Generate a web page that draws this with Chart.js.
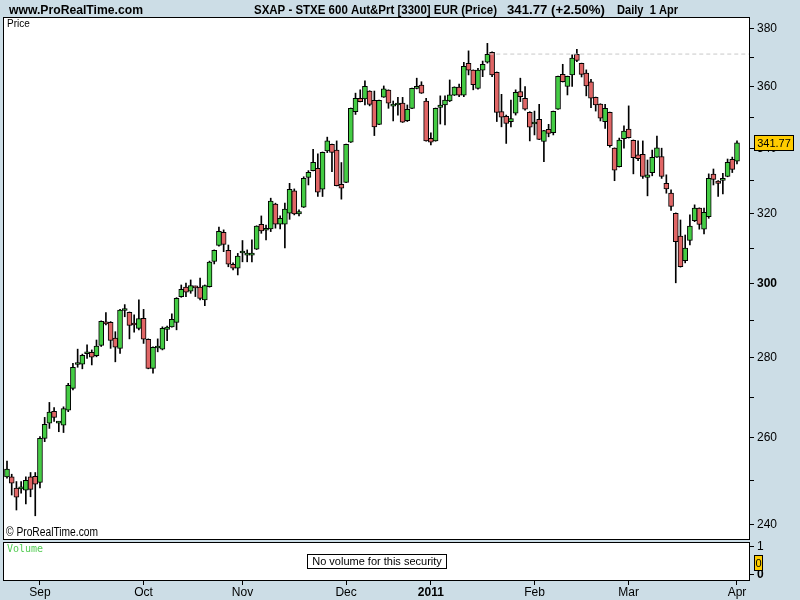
<!DOCTYPE html>
<html>
<head>
<meta charset="utf-8">
<title>SXAP - STXE 600 Aut&amp;Prt</title>
<script src="https://cdn.jsdelivr.net/npm/chart.js@4.4.0/dist/chart.umd.min.js"></script>
<style>
  html, body { margin: 0; padding: 0; background: #ccdde6; }
</style>
</head>
<body>
<canvas id="price-chart" width="800" height="600"></canvas>
<script>
// daily OHLC, 23 Aug 2010 .. 1 Apr 2011
var open = [
  250.8, 250.8, 248.2, 248.0, 247.7, 250.8, 250.9, 249.5, 259.9, 263.6,
  266.5, 263.6, 263.1, 266.8, 272.2, 278.3, 278.4, 281.1, 281.5, 280.6,
  283.3, 289.4, 289.4, 285.2, 282.5, 292.6, 292.1, 289.2, 287.8, 290.5,
  284.9, 277.3, 282.6, 282.3, 287.5, 288.2, 289.4, 296.4, 299.0, 297.9,
  299.2, 299.0, 295.5, 299.1, 306.2, 310.8, 314.6, 309.4, 305.4, 304.3,
  308.6, 308.0, 308.0, 309.7, 316.9, 315.2, 315.6, 322.9, 317.0, 317.0,
  320.2, 326.9, 320.0, 322.0, 331.0, 333.1, 333.8, 327.4, 339.2, 341.3,
  339.5, 328.9, 329.5, 342.0, 351.8, 356.2, 356.0, 358.6, 355.5, 347.7,
  356.6, 358.9, 353.6, 354.0, 354.6, 348.9, 352.9, 359.5, 360.6, 355.3,
  343.2, 342.4, 353.2, 354.0, 355.3, 357.2, 359.9, 357.2, 367.9, 365.6,
  359.5, 365.6, 368.3, 371.7, 364.9, 351.8, 350.3, 348.6, 351.3, 358.4,
  356.2, 351.6, 347.8, 349.3, 342.2, 346.1, 345.0, 352.6, 364.2, 360.1,
  364.0, 371.0, 367.9, 364.6, 361.7, 356.5, 354.3, 348.6, 351.6, 340.1,
  334.3, 343.1, 346.2, 342.6, 338.0, 338.2, 331.0, 332.5, 337.3, 337.5,
  329.2, 326.2, 320.2, 313.5, 306.4, 312.2, 318.0, 321.7, 315.5, 319.2,
  332.0, 329.9, 330.1, 331.3, 336.6, 336.0
];
var high = [
  254.5, 251.4, 249.7, 249.7, 250.8, 251.8, 251.8, 260.3, 265.0, 268.7,
  267.4, 264.0, 267.6, 273.5, 278.6, 282.3, 281.0, 283.4, 282.1, 284.7,
  289.8, 292.0, 289.6, 286.9, 292.9, 294.2, 292.2, 291.4, 295.5, 292.9,
  285.0, 282.9, 285.0, 288.2, 288.4, 291.7, 296.1, 299.6, 300.1, 301.0,
  299.3, 301.5, 299.6, 306.3, 309.5, 316.1, 315.3, 310.9, 305.8, 308.5,
  312.2, 309.5, 312.4, 316.5, 319.4, 316.7, 324.7, 323.2, 319.4, 323.2,
  329.2, 327.5, 321.2, 331.2, 333.1, 339.7, 338.3, 338.9, 343.6, 341.4,
  342.4, 335.6, 341.4, 353.0, 357.9, 359.0, 362.0, 358.7, 358.6, 355.6,
  360.3, 359.0, 355.3, 356.5, 356.5, 354.0, 359.6, 362.9, 361.7, 356.2,
  345.0, 353.0, 357.0, 357.0, 362.3, 360.0, 360.9, 368.3, 372.2, 365.7,
  366.2, 368.7, 374.8, 371.9, 365.0, 357.5, 350.7, 355.6, 359.0, 362.9,
  360.1, 351.8, 352.0, 354.2, 345.8, 347.7, 352.0, 363.6, 367.6, 363.6,
  370.8, 372.7, 368.0, 365.7, 362.5, 356.6, 354.4, 354.2, 351.7, 340.2,
  343.3, 347.2, 353.7, 342.7, 342.4, 342.4, 336.4, 339.5, 343.9, 340.1,
  331.8, 327.2, 320.3, 318.2, 313.8, 319.7, 322.7, 321.8, 321.7, 332.1,
  333.6, 330.0, 332.3, 336.7, 337.3, 342.4
];
var low = [
  250.5, 246.6, 243.2, 247.0, 244.6, 246.2, 241.9, 248.2, 259.1, 262.3,
  264.0, 261.5, 261.3, 266.4, 271.8, 277.6, 277.2, 279.9, 278.2, 280.3,
  283.0, 288.7, 282.5, 279.0, 281.2, 290.9, 285.0, 286.8, 287.4, 283.8,
  277.2, 276.1, 281.6, 282.1, 284.5, 288.1, 287.4, 296.2, 296.4, 297.3,
  296.4, 295.5, 293.9, 299.0, 305.5, 310.6, 309.0, 304.7, 303.8, 302.4,
  306.1, 306.1, 306.1, 309.6, 314.3, 312.4, 314.8, 315.8, 315.6, 310.1,
  318.4, 319.7, 319.4, 321.9, 328.7, 333.0, 325.2, 325.2, 338.7, 332.8,
  328.4, 324.4, 329.4, 341.9, 350.9, 355.0, 354.0, 353.7, 344.1, 347.6,
  356.5, 352.9, 348.8, 350.7, 348.3, 348.6, 352.8, 359.3, 357.8, 342.3,
  341.1, 342.3, 347.8, 347.5, 355.1, 357.1, 356.7, 356.7, 364.0, 359.0,
  359.2, 363.4, 368.0, 363.4, 348.6, 346.9, 341.6, 346.9, 350.7, 355.1,
  352.3, 342.4, 344.3, 342.8, 335.9, 343.7, 344.3, 352.5, 361.6, 357.3,
  360.1, 368.5, 363.3, 357.0, 353.1, 352.0, 348.8, 346.4, 340.4, 330.0,
  334.2, 340.1, 343.3, 332.1, 336.2, 330.7, 325.4, 331.5, 337.2, 330.7,
  326.2, 321.0, 300.2, 304.6, 305.8, 310.9, 317.7, 315.5, 314.1, 318.7,
  328.7, 325.2, 326.0, 331.2, 332.5, 335.2
];
var close = [
  252.6, 249.3, 246.1, 248.3, 250.0, 247.9, 249.1, 259.9, 263.3, 266.3,
  265.0, 263.8, 267.2, 273.0, 277.6, 278.4, 280.7, 281.6, 280.2, 283.1,
  289.7, 289.0, 284.6, 282.8, 292.7, 292.8, 288.6, 288.7, 290.4, 284.9,
  277.3, 282.8, 282.7, 287.8, 288.1, 290.2, 295.9, 298.4, 297.6, 299.4,
  298.8, 295.9, 299.4, 306.0, 309.4, 314.9, 311.1, 305.4, 304.3, 307.7,
  308.7, 308.4, 308.1, 316.4, 315.0, 315.3, 323.8, 317.0, 318.7, 321.4,
  327.4, 320.0, 320.7, 330.7, 332.6, 335.7, 326.5, 338.8, 342.4, 338.8,
  328.5, 327.7, 341.3, 352.9, 356.2, 355.1, 360.2, 354.2, 346.9, 355.5,
  359.3, 354.6, 353.7, 354.1, 348.4, 352.6, 359.5, 359.9, 357.9, 342.4,
  342.0, 352.9, 354.0, 355.6, 357.3, 359.9, 357.2, 366.9, 365.6, 360.7,
  365.6, 367.6, 371.0, 364.0, 351.6, 350.0, 348.0, 349.6, 358.2, 356.7,
  352.6, 346.8, 347.9, 342.9, 345.7, 344.8, 351.9, 363.5, 361.7, 363.5,
  369.7, 368.9, 364.2, 360.3, 356.2, 354.0, 349.7, 352.9, 340.9, 333.2,
  342.7, 345.5, 343.4, 337.1, 336.8, 331.3, 331.8, 337.2, 340.2, 331.3,
  327.5, 322.2, 311.9, 304.7, 310.0, 316.4, 321.7, 316.9, 320.5, 330.7,
  330.4, 329.2, 330.2, 335.7, 333.5, 341.77
];

// x axis: candle index of the first session of each month
var monthTicks = [7, 29, 50, 72, 90, 112, 132, 155];
var monthLabels = ['Sep', 'Oct', 'Nov', 'Dec', '2011', 'Feb', 'Mar', 'Apr'];
var priceTicks = [240, 250, 260, 270, 280, 290, 300, 310, 320, 330, 340, 350, 360, 370, 380];
var volumeTicks = [0, 1];
var lastPrice = 341.77;
var highLine = 371.1;
var highLineStart = 102.4;

var upColor = '#44cc44';
var downColor = '#e06666';
var bgColor = '#ccdde6';
var fontFam = "'Liberation Sans', Arial, sans-serif";

Chart.defaults.font.family = fontFam;

var wicks = [];
var bodies = [];
var bodyColors = [];
for (var i = 0; i < close.length; i++) {
  wicks.push({x: i, y: [low[i], high[i]]});
  bodies.push({x: i, y: [open[i], close[i]]});
  bodyColors.push(close[i] >= open[i] ? upColor : downColor);
}
var xMax = close.length + 1.55;

// draw text squeezed to a given width
function fitText(ctx, text, x, y, w, font, color) {
  ctx.font = font;
  var m = ctx.measureText(text).width;
  ctx.save();
  ctx.translate(x, y);
  ctx.scale(w / m, 1);
  ctx.fillStyle = color;
  ctx.textAlign = 'left';
  ctx.textBaseline = 'middle';
  ctx.fillText(text, 0, 0);
  ctx.restore();
}

var panels = {
  id: 'panels',
  beforeDraw: function(chart) {
    var ctx = chart.ctx;
    ctx.save();
    ctx.fillStyle = bgColor;
    ctx.fillRect(0, 0, chart.width, chart.height);
    ctx.fillStyle = '#fff';
    ctx.fillRect(3, 17, 747, 523);
    ctx.fillRect(3, 542, 747, 39);
    ctx.restore();
  },
  afterDraw: function(chart) {
    var ctx = chart.ctx;
    ctx.save();
    ctx.strokeStyle = '#000';
    ctx.lineWidth = 1;
    ctx.strokeRect(3.5, 17.5, 746, 522);
    ctx.strokeRect(3.5, 542.5, 746, 38);

    // header
    fitText(ctx, 'www.ProRealTime.com', 9, 10, 134, 'bold 13px ' + fontFam, '#000');
    fitText(ctx, 'SXAP - STXE 600 Aut&Prt [3300] EUR (Price)', 254, 10, 243, 'bold 13px ' + fontFam, '#000');
    fitText(ctx, '341.77 (+2.50%)', 507, 10, 98, 'bold 13px ' + fontFam, '#000');
    fitText(ctx, 'Daily  1 Apr', 617, 10, 61, 'bold 13px ' + fontFam, '#000');

    // panel captions
    ctx.fillStyle = '#000';
    ctx.font = '10px ' + fontFam;
    ctx.textBaseline = 'middle';
    ctx.fillText('Price', 7, 24);
    fitText(ctx, '\u00a9 ProRealTime.com', 6, 533, 92, '12px ' + fontFam, '#000');
    ctx.fillStyle = '#55cc55';
    ctx.font = '10px "DejaVu Sans Mono", monospace';
    ctx.fillText('Volume', 7, 549);

    // no volume box
    ctx.fillStyle = '#fff';
    ctx.fillRect(307.5, 554.5, 139, 14);
    ctx.strokeRect(307.5, 554.5, 139, 14);
    ctx.fillStyle = '#000';
    ctx.font = '11px ' + fontFam;
    ctx.textAlign = 'center';
    ctx.fillText('No volume for this security', 377, 562);

    // last price tag
    var yp = chart.scales.y.getPixelForValue(lastPrice);
    ctx.fillStyle = '#ffcc00';
    ctx.fillRect(754.5, Math.round(yp) - 7.5, 39, 15);
    ctx.strokeRect(754.5, Math.round(yp) - 7.5, 39, 15);
    ctx.fillStyle = '#000';
    ctx.font = '11px ' + fontFam;
    ctx.fillText(lastPrice.toFixed(2), 774, Math.round(yp) + 0.5);

    // volume tag
    var yv = chart.scales.v.getPixelForValue(0.4);
    ctx.fillStyle = '#ffcc00';
    ctx.fillRect(754.5, Math.round(yv) - 7.5, 8, 15);
    ctx.strokeRect(754.5, Math.round(yv) - 7.5, 8, 15);
    ctx.fillStyle = '#000';
    ctx.fillText('0', 758.5, Math.round(yv) + 0.5);
    ctx.restore();
  }
};

function tickGrid() {
  return {display: true, offset: false, drawOnChartArea: false, drawTicks: true, tickLength: 5, color: '#000', lineWidth: 1};
}

new Chart(document.getElementById('price-chart'), {
  type: 'bar',
  data: {
    datasets: [{
      label: 'High/Low',
      data: wicks,
      backgroundColor: '#000',
      barThickness: 1,
      grouped: false,
      order: 2,
      xAxisID: 'x',
      yAxisID: 'y'
    }, {
      label: 'Open/Close',
      data: bodies,
      backgroundColor: bodyColors,
      borderColor: '#000',
      borderWidth: 1,
      borderSkipped: false,
      barThickness: 5,
      minBarLength: 2,
      grouped: false,
      order: 1,
      xAxisID: 'x',
      yAxisID: 'y'
    }, {
      type: 'line',
      label: 'High',
      data: [{x: highLineStart, y: highLine}, {x: xMax, y: highLine}],
      borderColor: '#c8c8c8',
      borderDash: [4, 3],
      borderWidth: 1,
      pointRadius: 0,
      order: 0,
      xAxisID: 'x',
      yAxisID: 'y'
    }]
  },
  options: {
    responsive: false,
    animation: false,
    layout: {padding: {top: 17, left: 3, right: 0, bottom: 0}},
    plugins: {legend: {display: false}, tooltip: {enabled: false}},
    scales: {
      x: {
        type: 'linear',
        position: 'bottom',
        offset: false,
        min: -0.85,
        max: xMax,
        grid: tickGrid(),
        border: {display: false},
        afterBuildTicks: function(s) {
          s.ticks = monthTicks.map(function(v) { return {value: v}; });
        },
        afterFit: function(s) { s.height = 20; },
        ticks: {
          autoSkip: false,
          maxRotation: 0,
          padding: 0,
          color: '#000',
          font: function(c) {
            return {size: 12, weight: c.tick && c.tick.value === 90 ? 'bold' : 'normal'};
          },
          callback: function(v) {
            var k = monthTicks.indexOf(v);
            return k < 0 ? null : monthLabels[k];
          }
        }
      },
      y: {
        type: 'logarithmic',
        position: 'right',
        stack: 'panes',
        stackWeight: 523,
        min: 236.53,
        max: 384.07,
        grid: tickGrid(),
        border: {display: false},
        afterBuildTicks: function(s) {
          s.ticks = priceTicks.map(function(v) { return {value: v}; });
        },
        afterFit: function(s) { s.width = 51; },
        ticks: {
          padding: 3,
          color: '#000',
          font: function(c) {
            return {size: 12, weight: c.tick && c.tick.value === 300 ? 'bold' : 'normal'};
          },
          callback: function(v) { return v % 20 === 0 ? String(v) : ''; }
        }
      },
      v: {
        type: 'linear',
        position: 'right',
        stack: 'panes',
        stackWeight: 40,
        min: -0.207,
        max: 1.243,
        grid: tickGrid(),
        border: {display: false},
        afterBuildTicks: function(s) {
          s.ticks = volumeTicks.map(function(v) { return {value: v}; });
        },
        afterFit: function(s) { s.width = 51; },
        ticks: {
          padding: 3,
          color: '#000',
          font: function(c) {
            return {size: 12, weight: c.tick && c.tick.value === 0 ? 'bold' : 'normal'};
          },
          callback: function(v) { return String(v); }
        }
      }
    }
  },
  plugins: [panels]
});
</script>
</body>
</html>
